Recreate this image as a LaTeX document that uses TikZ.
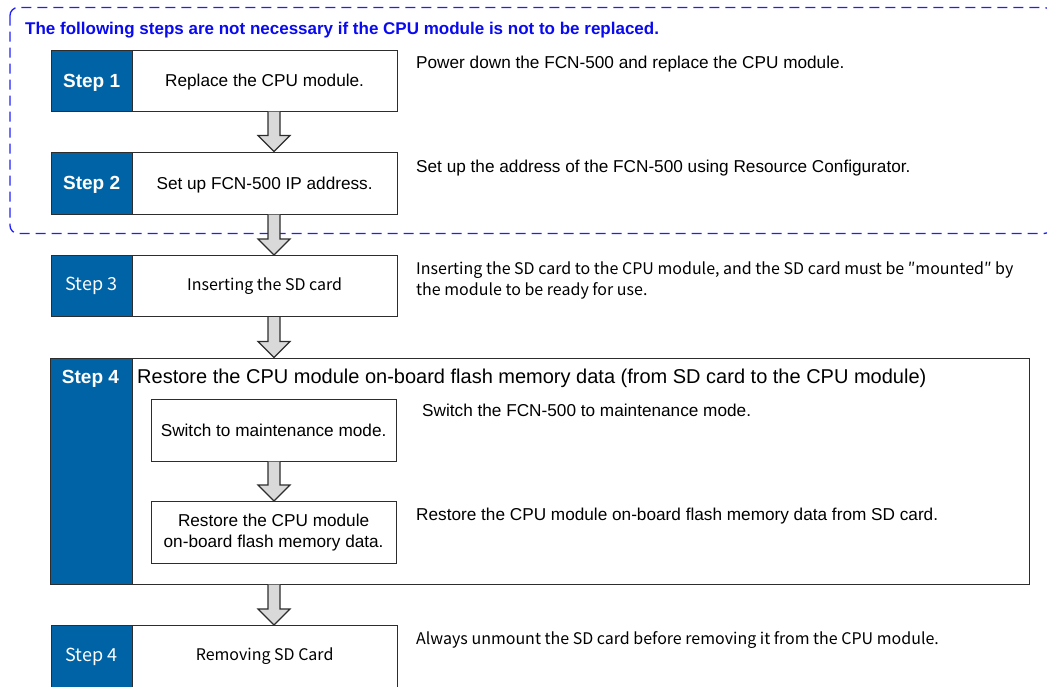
\documentclass[tikz,border=0pt]{standalone}
\usepackage{fontspec}
\setmainfont{Liberation Sans}
\newfontfamily\jp{Noto Sans CJK JP}
\usetikzlibrary{calc}
\definecolor{stepblue}{RGB}{0,99,165}
\definecolor{dashblue}{RGB}{30,30,255}
\definecolor{titleblue}{RGB}{10,10,240}
\definecolor{edgegray}{RGB}{45,45,45}
\definecolor{arrowgray}{RGB}{217,217,217}
\tikzset{
  labelbox/.style={draw=edgegray, line width=1.2pt, fill=stepblue, text=white, inner sep=0pt, anchor=north west},
  whitebox/.style={draw=edgegray, line width=1.2pt, fill=white, inner sep=0pt, anchor=north west, align=center},
  arial/.style={font=\fontsize{17.2}{21.5}\selectfont},
  arialbold/.style={font=\bfseries\fontsize{19}{22}\selectfont},
  jpfont/.style={font=\jp\fontsize{16}{21}\selectfont},
  jplabel/.style={font=\jp\fontsize{18}{21}\selectfont},
  capsA/.style={text height=12.2pt, text depth=0pt},
  note/.style={anchor=base west, inner sep=0pt},
  blockarrow/.style={draw=edgegray, line width=1.2pt, fill=arrowgray, line join=miter},
  dashframe/.style={draw=dashblue, line width=1.3pt, dash pattern=on 10pt off 6pt, rounded corners=8pt},
}
\newcommand\blkarrow[2]{%
  \draw[blockarrow] let \p1=(#1.south -| ax), \p2=(#2.north -| ax) in
    (\x1-6pt,\y1) -- (\x1-6pt,\y2+16pt) -- (\x1-16pt,\y2+16pt) -- (\x2,\y2)
    -- (\x1+16pt,\y2+16pt) -- (\x1+6pt,\y2+16pt) -- (\x1+6pt,\y1);}
\begin{document}
\begin{tikzpicture}[x=1pt,y=-1pt]
\useasboundingbox (0,0) rectangle (1047,686);
\coordinate (ax) at (274,0);
% dashed frame
\draw[dashframe] (10,7.5) rectangle (1052,233.5);
\node[note, font=\bfseries\fontsize{17}{20}\selectfont, text=titleblue] (title) at (25,34)
  {The following steps are not necessary if the CPU module is not to be replaced.};
% Step 1
\node[labelbox, arialbold, capsA, text height=13.6pt, minimum width=81pt, minimum height=61pt] (s1) at (50.5,49.5) {Step 1};
\node[whitebox, arial, capsA, minimum width=265pt, minimum height=61pt] (b1) at (131.5,49.5) {Replace the CPU module.};
\node[note, arial] (n1) at (416,68) {Power down the FCN-500 and replace the CPU module.};
% Step 2
\node[labelbox, arialbold, capsA, text height=13.6pt, minimum width=81pt, minimum height=62pt] (s2) at (50.5,151.5) {Step 2};
\node[whitebox, arial, capsA, minimum width=265pt, minimum height=62pt] (b2) at (131.5,151.5) {Set up FCN-500 IP address.};
\node[note, arial] (n2) at (416,172) {Set up the address of the FCN-500 using Resource Configurator.};
% Step 3
\node[labelbox, jplabel, minimum width=81pt, minimum height=61pt] (s3) at (50.5,255) {Step 3};
\node[whitebox, jpfont, minimum width=265pt, minimum height=61pt] (b3) at (131.5,255) {Inserting the SD card};
\node[note, jpfont, anchor=base west, align=left] (n3) at (416,295)
  {Inserting the SD card to the CPU module, and the SD card must be ″mounted″ by\\the module to be ready for use.};
% Step 4 (restore)
\node[labelbox, minimum width=82pt, minimum height=226pt] (s4) at (49.5,357.5) {};
\node[whitebox, minimum width=897pt, minimum height=226pt] (b4) at (131.5,357.5) {};
\node[anchor=base, inner sep=0pt, arialbold, text=white] (s4t) at (90.5,383) {Step 4};
\node[note, font=\fontsize{20}{24}\selectfont] (t4) at (137,383)
  {Restore the CPU module on-board flash memory data (from SD card to the CPU module)};
\node[whitebox, arial, capsA, minimum width=245pt, minimum height=62pt] (i1) at (150.5,398.5) {Switch to maintenance mode.};
\node[note, arial] (m1) at (422,416) {Switch the FCN-500 to maintenance mode.};
\node[whitebox, arial, minimum width=245pt, minimum height=62pt] (i2) at (150.5,501) {Restore the CPU module\\on-board flash memory data.};
\node[note, arial] (m2) at (416,520) {Restore the CPU module on-board flash memory data from SD card.};
% Step 4 (removing)
\node[labelbox, jplabel, minimum width=81pt, minimum height=62pt] (s5) at (50.5,625) {Step 4};
\node[whitebox, jpfont, minimum width=265pt, minimum height=62pt] (b5) at (131.5,625) {Removing SD Card};
\node[note, jpfont] (n5) at (416,644) {Always unmount the SD card before removing it from the CPU module.};
% arrows
\blkarrow{b1}{b2}
\blkarrow{b2}{b3}
\blkarrow{b3}{b4}
\blkarrow{i1}{i2}
\blkarrow{b4}{b5}
\end{tikzpicture}
\end{document}
